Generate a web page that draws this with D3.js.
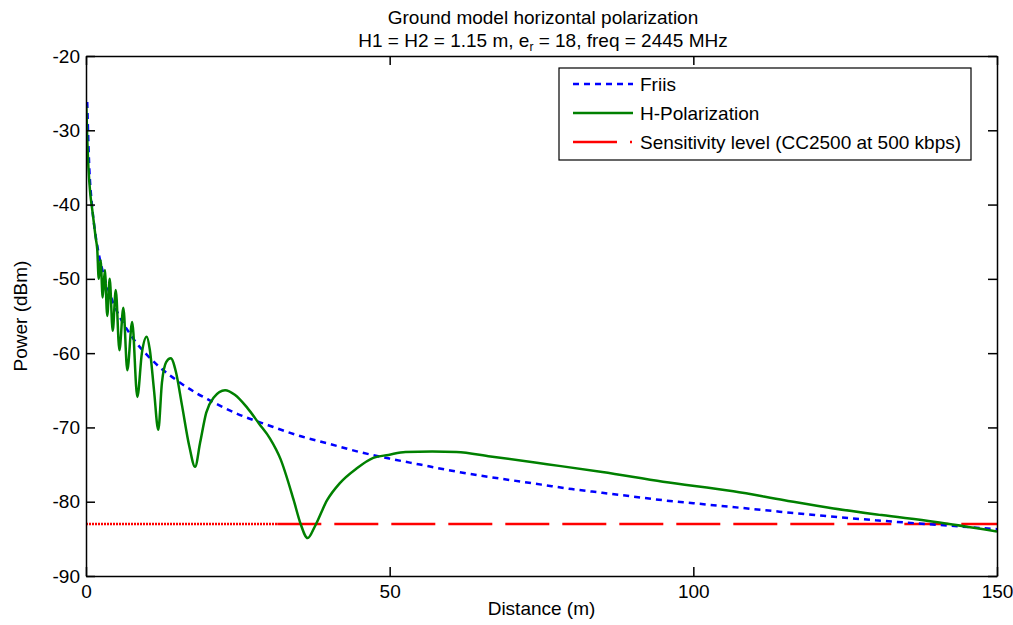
<!DOCTYPE html>
<html>
<head>
<meta charset="utf-8">
<script src="https://cdn.jsdelivr.net/npm/d3@7"></script>
<style>
  body { margin: 0; background: #fff; }
  text { font-family: "Liberation Sans", Arial, sans-serif; fill: #000; }
</style>
</head>
<body>
<script>
const w = 1013;
const h = 625;
const margin = {top: 56, right: 16, bottom: 49, left: 86};

// distances (m) and received power (dBm)
const friisDist = [0.2, 0.5, 1, 1.5, 2, 3, 4, 5, 6, 7, 8, 10, 12, 15, 18, 20, 25, 30, 35, 40, 45, 50, 55, 60, 65, 70, 75, 80, 85, 90, 95, 100, 110, 120, 130, 140, 150];
const friisPow = [-26.2, -34.2, -40.2, -43.7, -46.2, -49.7, -52.2, -54.2, -55.8, -57.1, -58.3, -60.2, -61.8, -63.7, -65.3, -66.2, -68.2, -69.7, -71.1, -72.2, -73.3, -74.2, -75.0, -75.8, -76.5, -77.1, -77.7, -78.3, -78.8, -79.3, -79.8, -80.2, -81.0, -81.8, -82.5, -83.1, -83.7];

const hpolDist = [0.05, 0.2, 0.4, 0.7, 1.0, 1.3, 1.6, 1.85, 2.1, 2.4, 2.75, 3.1, 3.5, 3.9, 4.4, 4.9, 5.5, 6.15, 6.8, 7.6, 8.45, 9.2, 10.0, 10.5, 11.2, 11.9, 12.5, 13.2, 13.95, 14.8, 15.8, 17.0, 17.96, 18.8, 19.8, 21.0, 22.9, 24.5, 26.5, 28.5, 30.3, 32.0, 34.2, 35.3, 36.5, 37.7, 39.7, 41.8, 44.6, 47.3, 49.8, 52.6, 57, 61, 66.6, 75.9, 85, 95, 106.6, 115, 123.1, 131, 139.6, 150];
const hpolPow = [-26.7, -31, -35, -38.5, -40.5, -42.5, -44.5, -46.0, -50.0, -47.5, -52.5, -48.8, -55.0, -50.0, -57.0, -51.5, -59.6, -53.9, -62.3, -55.8, -65.9, -60.0, -57.8, -59.5, -65.0, -70.3, -64.0, -61.2, -60.7, -62.5, -67.0, -72.5, -75.3, -72.0, -68.0, -66.0, -65.0, -65.6, -67.3, -69.5, -71.5, -74.2, -79.8, -82.9, -84.9, -83.3, -79.8, -77.5, -75.5, -74.1, -73.7, -73.3, -73.25, -73.3, -73.9, -74.95, -76.0, -77.3, -78.6, -79.8, -80.9, -81.8, -82.7, -84.0];

const sensitivity = -83; // CC2500 at 500 kbps
const sensDenseEnd = 31.5; // where the dash-dot looks solid-dotted in the original

const xTicks = [0, 50, 100, 150];
const yTicks = [-90, -80, -70, -60, -50, -40, -30, -20];

const legendLabels = ["Friis", "H-Polarization", "Sensitivity level (CC2500 at 500 kbps)"];

const fs = "19px";

const svg = d3.select("body").append("svg")
  .attr("width", w)
  .attr("height", h);

const x = d3.scaleLinear().domain([0, 150]).range([margin.left, w - margin.right]);
const y = d3.scaleLinear().domain([-90, -20]).range([h - margin.bottom, margin.top]);

const line = d3.line().x(d => x(d[0])).y(d => y(d[1]));
const smooth = d3.line().x(d => x(d[0])).y(d => y(d[1])).curve(d3.curveMonotoneX);

const friis = friisDist.map((d, i) => [d, friisPow[i]]);
const hpol = hpolDist.map((d, i) => [d, hpolPow[i]]);

svg.append("clipPath").attr("id", "plotclip")
  .append("rect")
  .attr("x", x(0)).attr("y", y(-20))
  .attr("width", x(150) - x(0)).attr("height", y(-90) - y(-20));

const plot = svg.append("g").attr("clip-path", "url(#plotclip)");

// sensitivity level
plot.append("path")
  .attr("d", line([[0, sensitivity], [sensDenseEnd, sensitivity]]))
  .attr("fill", "none").attr("stroke", "#ff0000").attr("stroke-width", 2.5)
  .attr("stroke-dasharray", "2,1");
plot.append("path")
  .attr("d", line([[sensDenseEnd, sensitivity], [150, sensitivity]]))
  .attr("fill", "none").attr("stroke", "#ff0000").attr("stroke-width", 2.5)
  .attr("stroke-dasharray", "44,13");

plot.append("path")
  .attr("d", smooth(friis))
  .attr("fill", "none").attr("stroke", "#0000ff").attr("stroke-width", 2.5)
  .attr("stroke-dasharray", "6,5");

plot.append("path")
  .attr("d", smooth(hpol))
  .attr("fill", "none").attr("stroke", "#008000").attr("stroke-width", 2.5)
  .attr("stroke-linejoin", "round");

// axes, matlab style: box with inward ticks on all sides
const tickLen = 9;
const fmt = d => String(d);
const xAxisB = d3.axisBottom(x).tickValues(xTicks).tickSizeInner(-tickLen).tickSizeOuter(0).tickPadding(9).tickFormat(fmt);
const xAxisT = d3.axisTop(x).tickValues(xTicks).tickSizeInner(-tickLen).tickSizeOuter(0).tickFormat("");
const yAxisL = d3.axisLeft(y).tickValues(yTicks).tickSizeInner(-tickLen).tickSizeOuter(0).tickPadding(6).tickFormat(fmt);
const yAxisR = d3.axisRight(y).tickValues(yTicks).tickSizeInner(-tickLen).tickSizeOuter(0).tickFormat("");

function styleAxis(g) {
  g.select(".domain").attr("stroke", "#000").attr("stroke-width", 1.5);
  g.selectAll(".tick line").attr("stroke", "#000").attr("stroke-width", 1.5);
  g.selectAll(".tick text").style("font-size", fs).attr("fill", "#000")
    .style("font-family", "'Liberation Sans', Arial, sans-serif");
}

svg.append("g").attr("transform", `translate(0,${y(-90)})`).call(xAxisB).call(styleAxis);
svg.append("g").attr("transform", `translate(0,${y(-20)})`).call(xAxisT).call(styleAxis);
svg.append("g").attr("transform", `translate(${x(0)},0)`).call(yAxisL).call(styleAxis);
svg.append("g").attr("transform", `translate(${x(150)},0)`).call(yAxisR).call(styleAxis);

// titles
svg.append("text").attr("x", 543).attr("y", 24).attr("text-anchor", "middle")
  .style("font-size", fs).text("Ground model horizontal polarization");
const t2 = svg.append("text").attr("x", 543).attr("y", 47).attr("text-anchor", "middle")
  .style("font-size", fs);
t2.append("tspan").text("H1 = H2 = 1.15 m, e");
t2.append("tspan").attr("dy", 4).style("font-size", "12px").text("r");
t2.append("tspan").attr("dy", -4).text(" = 18, freq = 2445 MHz");

svg.append("text").attr("x", (x(0) + x(150)) / 2).attr("y", 615).attr("text-anchor", "middle")
  .style("font-size", fs).text("Distance (m)");
svg.append("text").attr("transform", `translate(27,${(y(-20) + y(-90)) / 2}) rotate(-90)`)
  .attr("text-anchor", "middle").style("font-size", fs).text("Power (dBm)");

// legend
const lg = svg.append("g");
lg.append("rect").attr("x", 559).attr("y", 68).attr("width", 412).attr("height", 92)
  .attr("fill", "#fff").attr("stroke", "#000").attr("stroke-width", 1.2);
const rows = [84, 113, 142];
const legStyles = [
  {c: "#0000ff", dash: "6,5"},
  {c: "#008000", dash: null},
  {c: "#ff0000", dash: "44,13,2,100"}
];
legendLabels.forEach((lab, i) => {
  const p = lg.append("line").attr("x1", 573).attr("x2", 633).attr("y1", rows[i]).attr("y2", rows[i])
    .attr("stroke", legStyles[i].c).attr("stroke-width", 2.5);
  if (legStyles[i].dash) p.attr("stroke-dasharray", legStyles[i].dash);
  lg.append("text").attr("x", 640).attr("y", rows[i] + 7).style("font-size", fs).text(lab);
});
</script>
</body>
</html>
